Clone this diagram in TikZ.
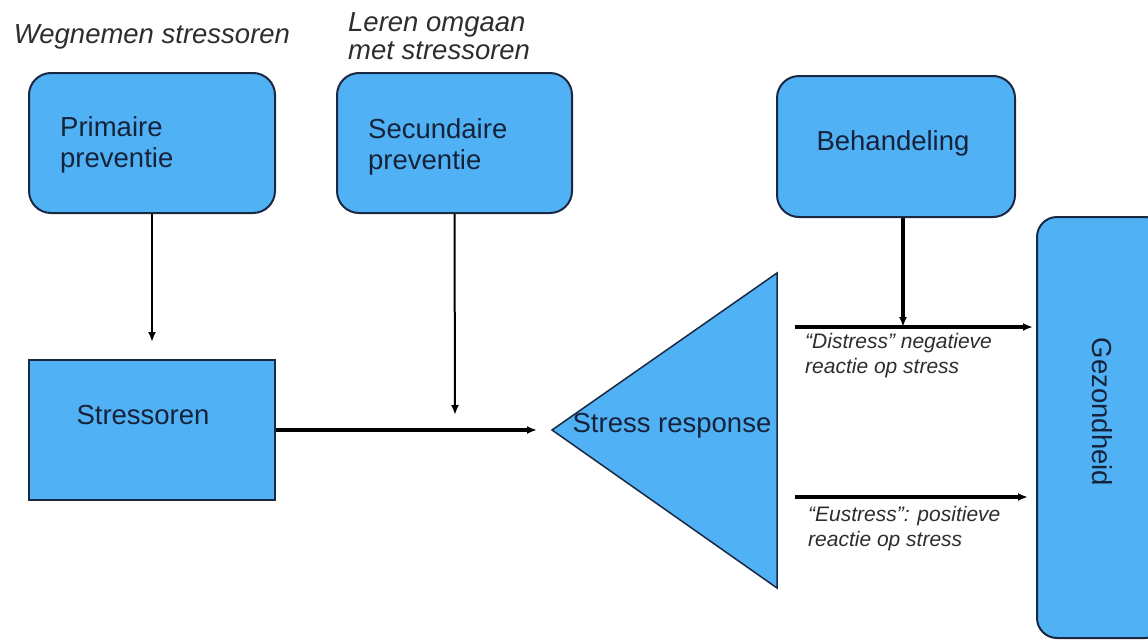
\documentclass[tikz,border=0pt]{standalone}
\usepackage{fontspec}
\setmainfont{Liberation Sans}
\usepackage{tikz}
\usetikzlibrary{arrows.meta}

\definecolor{boxblue}{RGB}{80,178,245}
\definecolor{boxline}{RGB}{27,40,66}
\definecolor{boxtext}{RGB}{22,34,58}
\definecolor{labeltext}{RGB}{45,45,45}

\begin{document}
\begin{tikzpicture}[x=1pt, y=-1pt,
  roundbox/.style={draw=boxline, fill=boxblue, line width=2pt, rounded corners=22pt},
  flatbox/.style={draw=boxline, fill=boxblue, line width=2pt},
  boxlabel/.style={text=boxtext, font=\fontsize{27.5}{31}\selectfont, align=left, inner sep=0pt},
  headlabel/.style={text=labeltext, font=\fontsize{27.5}{28}\selectfont\itshape, align=left, inner sep=0pt},
  arrowlabel/.style={text=labeltext, font=\fontsize{21}{25}\selectfont\itshape, align=left, inner sep=0pt},
  >={Latex[length=10pt,width=8pt]}]

\useasboundingbox (0,0) rectangle (1148,640);

\node (wegnemen) at (152,37) [headlabel] {Wegnemen stressoren};
\node (leren) at (348,36) [headlabel, anchor=west] {Leren omgaan\\met stressoren};

\node (primaire) at (152,143) [roundbox, minimum width=246pt, minimum height=140pt] {};
\node (secundaire) at (454.5,143) [roundbox, minimum width=235pt, minimum height=140pt] {};
\node (behandeling) at (896,146.5) [roundbox, minimum width=238pt, minimum height=141pt] {};
\node (stressoren) at (152,430) [flatbox, minimum width=246pt, minimum height=140pt] {};
\node (gezond) at (1101,427.5) [roundbox, rounded corners=20pt, minimum width=128pt, minimum height=421pt] {};

\node (primairetxt) at (60,145) [boxlabel, anchor=west] {Primaire\\preventie};
\node (secundairetxt) at (368,147) [boxlabel, anchor=west] {Secundaire\\preventie};
\node (behandelingtxt) at (893,143) [boxlabel] {Behandeling};
\node (stressorentxt) at (143,415) [boxlabel] {Stressoren};
\node (gezondtxt) at (1102,412) [boxlabel, rotate=-90] {Gezondheid};

% stress response triangle
\coordinate (tip) at (552,430);
\coordinate (top) at (777,273);
\coordinate (bottom) at (777,588);
\draw[flatbox, line width=1.5pt] (tip) -- (top) -- (bottom) -- cycle;
\node (response) at (672,426) [boxlabel] {Stress response};

\coordinate (secend) at (455,415);
\coordinate (distress) at (795,327);
\coordinate (eustress) at (795,497);

\draw[->, line width=2pt] (primaire.south) -- ([yshift=17pt]stressoren.north);
\draw[->, line width=2pt] (secundaire.south) -- (secend);
\draw[->, line width=3.4pt] (stressoren.east) -- ([xshift=-15pt]tip);
\draw[->, line width=3.4pt] ([xshift=7pt]behandeling.south) -- ([xshift=7pt]behandeling.south |- distress);
\draw[->, line width=3.4pt] (distress) -- ([xshift=-3pt]distress -| gezond.west);
\draw[->, line width=3.4pt] (eustress) -- ([xshift=-8pt]eustress -| gezond.west);

\node (distresstxt) at (805,355.5) [arrowlabel, anchor=west] {``Distress'' negatieve\\reactie op stress};
\node (eustresstxt) at (808,528.5) [arrowlabel, anchor=west] {``Eustress'': positieve\\reactie op stress};
\end{tikzpicture}
\end{document}
